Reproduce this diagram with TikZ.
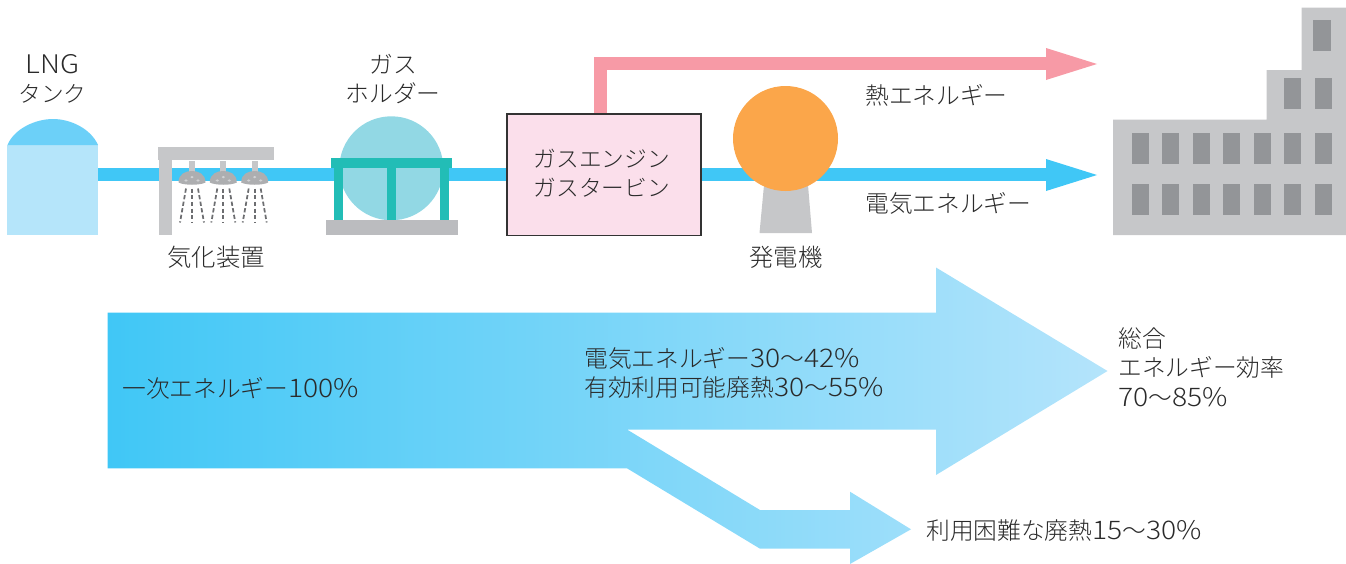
\documentclass[tikz,border=0pt]{standalone}
\usepackage{fontspec}
\setmainfont{Noto Sans CJK JP}[UprightFont=* Light]
\definecolor{txt}{HTML}{2A2A2A}
\definecolor{pipe}{HTML}{40C7F6}
\definecolor{heat}{HTML}{F79AA6}
\definecolor{tankbody}{HTML}{B5E5FA}
\definecolor{tanktop}{HTML}{6CD0F8}
\definecolor{steel}{HTML}{C6C7C9}
\definecolor{head}{HTML}{ADAEB0}
\definecolor{drops}{HTML}{6D6E71}
\definecolor{sphere}{HTML}{92D8E4}
\definecolor{frame}{HTML}{22BDB6}
\definecolor{base}{HTML}{BBBCBF}
\definecolor{boxfill}{HTML}{FBDFEB}
\definecolor{gen}{HTML}{FBA64A}
\definecolor{win}{HTML}{939598}
\definecolor{gradL}{HTML}{40C7F6}
\definecolor{gradR}{HTML}{B4E4FB}
\newcommand{\latn}[1]{\scalebox{1.19}[1.08]{#1}}
\tikzset{
lbl/.style={text=txt,font=\fontsize{17.8pt}{22.2pt}\selectfont,inner sep=0pt,align=center},
lbll/.style={lbl,align=left,anchor=west},
kanjilbl/.style={lbl,font=\fontsize{18.3pt}{22.2pt}\selectfont},
dropline/.style={drops,line width=1.3pt,dash pattern=on 3.2pt off 1.8pt},
showerhead/.pic={
  \fill[steel] (-3,-14) rectangle (3,-3);
  \fill[head] (-13.5,8) .. controls (-13.5,-1) and (-6,-3.5) .. (0,-3.5) .. controls (6,-3.5) and (13.5,-1) .. (13.5,8) .. controls (8,11) and (-8,11) .. (-13.5,8) -- cycle;
  \fill[steel!80!white] (-6,6) circle (1.7 and 1.2) (0,2.6) circle (1.7 and 1.2) (6,6) circle (1.7 and 1.2);
  \draw[dropline] (-6,14) -- (-12,48);
  \draw[dropline] (0,14) -- (0,48);
  \draw[dropline] (6,14) -- (12,48);
}}
\begin{document}
\begin{tikzpicture}[x=0.75pt,y=-0.75pt]
\useasboundingbox (0,0) rectangle (1346,564);
% lower gradient arrow
\shade[left color=gradL,right color=gradR] (107.5,312.5) -- (936,312.5) -- (936,267.5) -- (1107.5,371) -- (936,475) -- (936,429.5) -- (627,429.5) -- (760,510) -- (850,510) -- (850,491.7) -- (911,529.3) -- (850,564) -- (850,548.7) -- (760,548.7) -- (627,468.3) -- (107.5,468.3) -- cycle;
% pipes
\fill[pipe] (98,168) rectangle (1046,181);
\fill[pipe] (1046,159) -- (1097,175) -- (1046,191) -- cycle;
\fill[heat] (594,57) rectangle (1046,70);
\fill[heat] (594,57) rectangle (607,115);
\fill[heat] (1046,48) -- (1097,64) -- (1046,80) -- cycle;
% tank
\fill[tankbody] (7,145) rectangle (98,235);
\fill[tanktop] (7.5,145) .. controls (14,129) and (35,119) .. (53,119) .. controls (71,119) and (91,129) .. (98,145) -- cycle;
% vaporizer
\fill[steel] (158,147) rectangle (274,160);
\fill[steel] (159,160) rectangle (172,235);
\pic at (192,174.5) {showerhead};
\pic at (223.3,174.5) {showerhead};
\pic at (254.7,174.5) {showerhead};
% holder
\fill[sphere] (391.3,168.3) circle (52);
\fill[frame] (331,158) rectangle (452,168);
\fill[frame] (334,168) rectangle (343,220);
\fill[frame] (387,168) rectangle (396,220);
\fill[frame] (440,168) rectangle (449,220);
\fill[base] (326,220) rectangle (458,235);
% generator
\fill[steel] (764,185) -- (808,185) -- (812,233) -- (759.5,233) -- cycle;
\fill[gen] (785.5,138.5) circle (52.5);
% engine box
\node[draw=black!80,line width=1.1pt,fill=boxfill,minimum width=145.5pt,minimum height=91pt,inner sep=0pt,outer sep=0pt,anchor=north west] (engine) at (507,114) {};
\node[lbl,font=\fontsize{17pt}{21.8pt}\selectfont] (enginetext) at ([xshift=-1.7pt,yshift=0.9pt]engine.center) {ガスエンジン\\ガスタービン};
% factory
\fill[steel] (1113,235) -- (1113,119.5) -- (1266.5,119.5) -- (1266.5,70) -- (1301.5,70) -- (1301.5,7.5) -- (1346,7.5) -- (1346,235) -- cycle;
\fill[win] (1313,20) rectangle (1330.5,51);
\foreach \x in {1284.3,1315} \fill[win] (\x,78) rectangle ++(17,31);
\foreach \x in {1132,1162,1193,1223,1254,1284.3,1315} {
  \fill[win] (\x,133) rectangle ++(17,31);
  \fill[win] (\x,184) rectangle ++(17,31);
}
% labels
\node[lbl] (l1) at (52.5,79) {\latn{LNG}\\[-0.5pt]{\fontsize{17pt}{22pt}\selectfont タンク}};
\node[lbl] (l2) at (393,79) {ガス\\ホルダー};
\node[kanjilbl] (l3) at (216,257) {気化装置};
\node[kanjilbl] (l4) at (786,257) {発電機};
\node[lbll] (l5) at (865,95) {熱エネルギー};
\node[lbll] (l6) at (865,203.5) {電気エネルギー};
\node[lbll] (l7) at (122,388) {一次エネルギー\latn{100\%}};
\node[lbll] (l8) at (584,373) {電気エネルギー\latn{30}～\latn{42\%}\\有効利用可能廃熱\latn{30}～\latn{55\%}};
\node[lbll] (l9) at (1118,367) {総合\\エネルギー効率\\\latn{70}～\latn{85\%}};
\node[lbll] (l10) at (926,531) {利用困難な廃熱\latn{15}～\latn{30\%}};
\end{tikzpicture}
\end{document}
